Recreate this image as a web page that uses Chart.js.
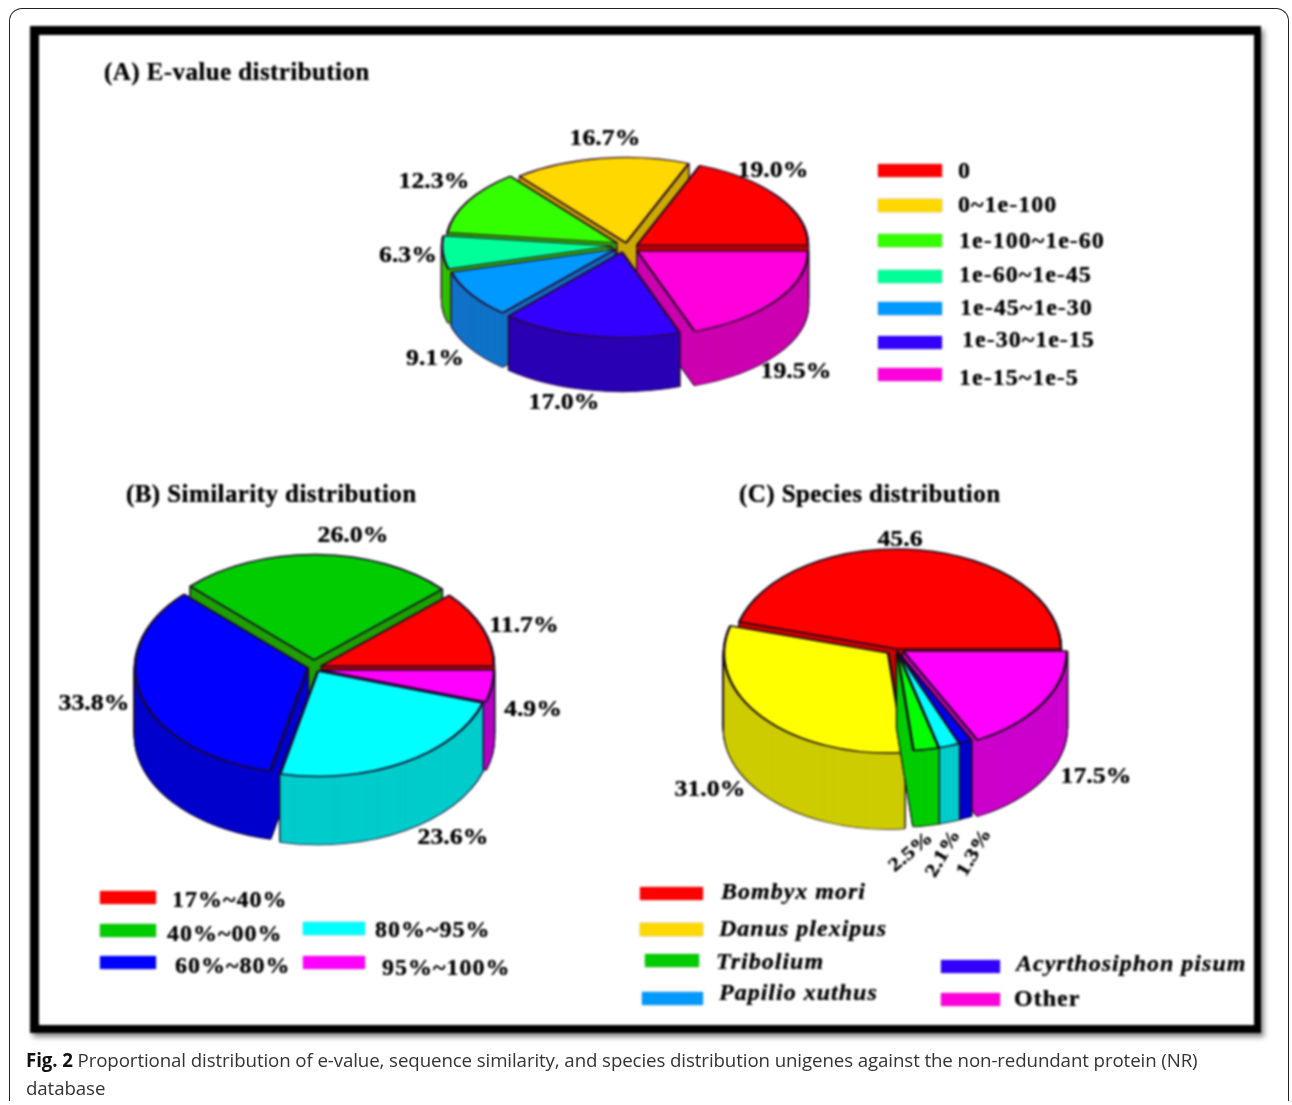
<!DOCTYPE html>
<html>
<head>
<meta charset="utf-8">
<script src="https://cdn.jsdelivr.net/npm/chart.js@4"></script>
<style>
  html, body { margin: 0; padding: 0; background: #fff; }
  body { position: relative; width: 1292px; height: 1105px; overflow: hidden; }
  #card { position: absolute; left: 9px; top: 8px; width: 1278px; height: 1092px; border: 1.5px solid #222; border-bottom: none; border-radius: 13px 13px 0 0; }
  #figure { position: absolute; left: 0; top: 0; width: 1292px; height: 1105px; filter: blur(0.8px); }
  #frame { position: absolute; left: 30px; top: 26px; width: 1215px; height: 990px; border: solid #000; border-width: 9px 7px 8px 9px; box-shadow: 3px 4px 5px #888; }
  canvas { position: absolute; left: 0; top: 0; }
  .t { position: absolute; white-space: nowrap; font-family: "Liberation Serif", serif; font-weight: bold; color: #000; text-shadow: 0 0 0.6px #000; transform: translate(0, -50%); line-height: 1; }
  .pct { font-size: 23px; transform: translate(-50%, -50%) scaleX(1.12); }
  .title { font-size: 25px; letter-spacing: 0.42px; }
  .leg { font-size: 24px; letter-spacing: 1px; }
  .sw { position: absolute; height: 13px; box-shadow: 0 0 2px rgba(0,0,0,.35); }
  #caption { position: absolute; left: 26px; top: 1046px; width: 1240px; font-family: "Open Sans", sans-serif; font-size: 18.7px; line-height: 28px; color: #333; letter-spacing: -0.1px; white-space: nowrap; }
  #caption b { font-weight: bold; color: #111; }
</style>
</head>
<body>
<div id="card"></div>
<div id="figure"><div id="frame"></div></div>
<div id="caption"><b>Fig. 2</b> Proportional distribution of e-value, sequence similarity, and species distribution unigenes against the non-redundant protein (NR)<br>database</div>
<script>
"use strict";

// values, in legend order
const evalueLabels = ['0', '0~1e-100', '1e-100~1e-60', '1e-60~1e-45', '1e-45~1e-30', '1e-30~1e-15', '1e-15~1e-5'];
const evalueValues = [19.0, 16.7, 12.3, 6.3, 9.1, 17.0, 19.5];

const similarityLabels = ['17%~40%', '40%~00%', '60%~80%', '80%~95%', '95%~100%'];
const similarityValues = [11.7, 26.0, 33.8, 23.6, 4.9];

const speciesLabels = ['Bombyx mori', 'Danus plexipus', 'Tribolium', 'Papilio xuthus', 'Acyrthosiphon pisum', 'Other'];
const speciesValues = [45.6, 31.0, 2.5, 2.1, 1.3, 17.5];

// colours
const evalueColors = ['#ff0000', '#ffd800', '#33ff00', '#00ff99', '#0099ff', '#3300ff', '#ff00dd'];
const evalueWalls = ['#b80000', '#ccaa00', '#2ec000', '#30c000', '#0f72c8', '#2a00b4', '#cc00b0'];
const similarityColors = ['#ff0000', '#00cc00', '#0000ff', '#00ffff', '#ff00ff'];
const similarityWalls = ['#b80000', '#1ea000', '#0000cc', '#00cccc', '#b400c4'];
const speciesColors = ['#ff0000', '#ffff00', '#00ff00', '#00ffff', '#0000ff', '#ff00ff'];
const speciesWalls = ['#cc0000', '#cccc00', '#00cc00', '#00cccc', '#0000cc', '#cc00cc'];
const speciesLegendColors = ['#ff0000', '#ffd800', '#00cc00', '#0099ff', '#3300ff', '#ff00dd'];

const figure = document.getElementById('figure');

// draws each slice back to front: side wall first, then the flat top
const pie3d = (cfg) => ({
    id: 'pie3d',
    beforeDatasetDraw(chart) {
        const ctx = chart.ctx;
        const arcs = chart.getDatasetMeta(0).data;
        const n = arcs.length;
        const mid = (arc) => (arc.startAngle + arc.endAngle) / 2;
        const order = arcs.map((arc, i) => i).sort((a, b) => Math.sin(mid(arcs[a])) - Math.sin(mid(arcs[b])));

        ctx.save();
        ctx.scale(1, cfg.tilt);
        order.forEach((i) => {
            const arc = arcs[i];
            const base = arc.options;
            const legendIndex = n - 1 - i;
            arc.x = cfg.apex[legendIndex][0];
            arc.y = cfg.apex[legendIndex][1] / cfg.tilt;

            // wall outline, then wall fill on top of it
            for (let pass = 0; pass < 2; pass++) {
                for (let d = cfg.depth; d >= 1; d--) {
                    ctx.save();
                    ctx.translate(0, d / cfg.tilt);
                    arc.options = pass === 0
                        ? {...base, backgroundColor: cfg.edge, borderColor: cfg.edge, borderWidth: 2.5}
                        : {...base, backgroundColor: cfg.walls[legendIndex], borderWidth: 0};
                    arc.draw(ctx);
                    ctx.restore();
                }
            }
            arc.options = base;
            arc.draw(ctx);
        });
        ctx.restore();
        return false;
    }
});

const createPie = (labels, values, colors, cfg) => {
    const canvas = document.createElement('canvas');
    canvas.width = 1292;
    canvas.height = 1105;
    figure.append(canvas);
    new Chart(canvas, {
        type: 'pie',
        data: {
            labels: [...labels].reverse(),
            datasets: [{
                data: [...values].reverse(),
                backgroundColor: [...colors].reverse(),
                borderColor: cfg.edge,
                borderWidth: 2.5
            }]
        },
        options: {
            responsive: false,
            animation: false,
            rotation: 90,
            radius: cfg.radius,
            plugins: { legend: { display: false }, tooltip: { enabled: false } }
        },
        plugins: [pie3d(cfg)]
    });
};

createPie(evalueLabels, evalueValues, evalueColors, {
    tilt: 0.5, depth: 54, radius: 171, edge: '#2a0a2a', walls: evalueWalls,
    apex: [[637, 245], [626, 243], [617, 243], [613, 246], [616, 249], [622, 252], [637, 251]]
});
createPie(similarityLabels, similarityValues, similarityColors, {
    tilt: 0.61, depth: 68, radius: 173, edge: '#1a0a2a', walls: similarityWalls,
    apex: [[321, 666], [314, 660], [308, 668], [318, 671], [321, 670]]
});
createPie(speciesLabels, speciesValues, speciesColors, {
    tilt: 0.61, depth: 76, radius: 164, edge: '#1a0a1a', walls: speciesWalls,
    apex: [[897, 649], [888, 653], [897, 651], [897, 651], [897, 651], [903, 651]]
});

// text and legend overlays
const addText = (text, cls, x, y, extra) => {
    const el = document.createElement('div');
    el.className = 't ' + cls;
    el.textContent = text;
    el.style.left = x + 'px';
    el.style.top = y + 'px';
    if (extra) Object.assign(el.style, extra);
    figure.append(el);
};
const addSwatch = (color, x, y, w) => {
    const el = document.createElement('div');
    el.className = 'sw';
    el.style.cssText = `left:${x}px;top:${y - 6.5}px;width:${w}px;background:${color}`;
    figure.append(el);
};

addText('(A) E-value distribution', 'title', 104, 71);
addText('(B) Similarity distribution', 'title', 126, 493);
addText('(C) Species distribution', 'title', 739, 493);

const pct = (v) => v.toFixed(1) + '%';
const evaluePos = [[773, 169], [605, 137], [434, 180], [408, 254], [435, 357], [564, 401], [796, 370]];
evalueValues.forEach((v, i) => addText(pct(v), 'pct', evaluePos[i][0], evaluePos[i][1]));
const similarityPos = [[524, 624], [353, 534], [94, 702], [453, 836], [533, 708]];
similarityValues.forEach((v, i) => addText(pct(v), 'pct', similarityPos[i][0], similarityPos[i][1]));
const speciesPos = [[900, 538], [710, 788], [910, 851], [942, 853], [973, 852], [1096, 775]];
const speciesAngle = [0, 0, -40, -60, -60, 0];
speciesValues.forEach((v, i) => {
    if (i === 0) {
        addText(v.toFixed(1), 'pct', speciesPos[i][0], speciesPos[i][1]);
    } else if (speciesAngle[i] !== 0) {
        addText(pct(v), 'pct', speciesPos[i][0], speciesPos[i][1], {
            fontSize: '19px',
            transform: `translate(-50%, -50%) rotate(${speciesAngle[i]}deg) scaleX(1.2)`
        });
    } else {
        addText(pct(v), 'pct', speciesPos[i][0], speciesPos[i][1]);
    }
});

// legends
const evalueSwatchY = [170, 205, 240, 276, 308, 342, 374];
const evalueTextPos = [[958, 170], [958, 204], [959, 240], [959, 274], [960, 307], [962, 339], [959, 377]];
evalueLabels.forEach((label, i) => {
    addSwatch(evalueColors[i], 878, evalueSwatchY[i], 64);
    addText(label, 'leg', evalueTextPos[i][0], evalueTextPos[i][1]);
});

const similaritySwatchPos = [[100, 897, 56], [100, 930, 56], [100, 962, 56], [303, 928, 62], [303, 962, 62]];
const similarityTextPos = [[172, 899], [167, 933], [175, 965], [375, 929], [382, 967]];
similarityLabels.forEach((label, i) => {
    addSwatch(similarityColors[i], ...similaritySwatchPos[i]);
    addText(label, 'leg', similarityTextPos[i][0], similarityTextPos[i][1]);
});

const speciesSwatchPos = [[640, 893, 63], [640, 929, 63], [645, 960, 54], [642, 998, 61], [941, 966, 59], [941, 999, 59]];
const speciesTextPos = [[721, 891], [719, 928], [716, 961], [719, 992], [1016, 963], [1014, 998]];
speciesLabels.forEach((label, i) => {
    addSwatch(speciesLegendColors[i], ...speciesSwatchPos[i]);
    addText(label, 'leg', speciesTextPos[i][0], speciesTextPos[i][1], label === 'Other' ? {} : {fontStyle: 'italic'});
});
</script>
</body>
</html>
